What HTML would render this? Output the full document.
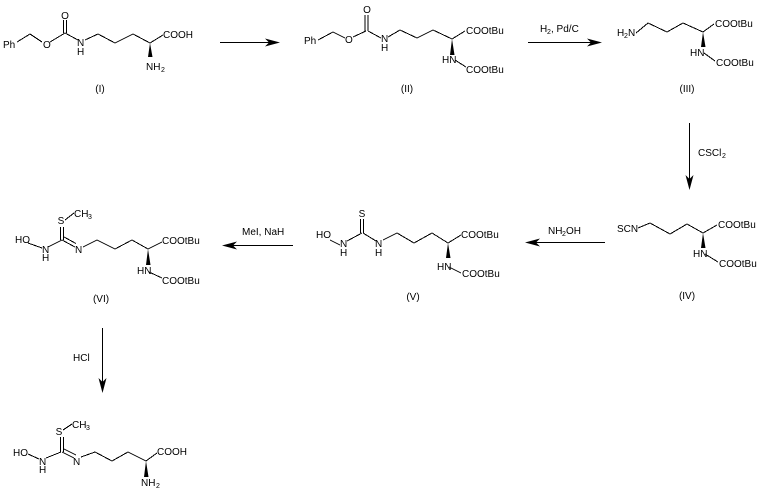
<!DOCTYPE html>
<html><head><meta charset="utf-8"><style>
html,body{margin:0;padding:0;background:#fff;}
svg{display:block}
text{font-family:"Liberation Sans",Arial,sans-serif;font-size:10px;fill:#000}
.s{font-size:7px}
.m{text-anchor:middle}
</style></head><body>
<svg width="762" height="494" viewBox="0 0 762 494" xmlns="http://www.w3.org/2000/svg">
<g stroke="#000" stroke-width="1" fill="none" shape-rendering="crispEdges">
<!-- Compound I -->
<polyline points="17,42 30,34 42,42"/>
<line x1="50" y1="42" x2="65" y2="33"/>
<line x1="63.5" y1="33" x2="63.5" y2="20"/>
<line x1="66.5" y1="33" x2="66.5" y2="20"/>
<line x1="65" y1="33" x2="78" y2="40"/>
<polyline points="85,40 98,34 115,43 133,34 150,43 163,35"/>
<!-- arrow 1 -->
<line x1="220" y1="42.5" x2="270" y2="42.5"/>
<!-- Compound II -->
<polyline points="318,40 333,32 345,38"/>
<line x1="353" y1="37" x2="366" y2="31"/>
<line x1="365" y1="31" x2="365" y2="15"/>
<line x1="368" y1="31" x2="368" y2="15"/>
<line x1="368" y1="31" x2="381" y2="38"/>
<polyline points="388,37 400,30 417,38 433,30 452,39 465,31"/>
<line x1="455" y1="60" x2="466" y2="67"/>
<!-- arrow 2 -->
<line x1="528" y1="42.5" x2="592" y2="42.5"/>
<!-- Compound III -->
<polyline points="636,33 648,23 667,32 683,23 703,32 714,24"/>
<line x1="704" y1="53" x2="715" y2="61"/>
<!-- arrow 3 vertical -->
<line x1="689.5" y1="123" x2="689.5" y2="180"/>
<!-- Compound IV -->
<polyline points="638,228 650,223 670,234 687,224 703,233 717,225"/>
<line x1="705" y1="254" x2="718" y2="262"/>
<!-- arrow NH2OH -->
<line x1="535" y1="242.5" x2="605" y2="242.5"/>
<!-- Compound V -->
<line x1="330" y1="240" x2="340" y2="245"/>
<line x1="347" y1="241" x2="362" y2="233"/>
<line x1="360.5" y1="233" x2="360.5" y2="219"/>
<line x1="363.5" y1="233" x2="363.5" y2="219"/>
<line x1="363" y1="233" x2="376" y2="241"/>
<polyline points="383,240 397,233 414,243 432,233 448,243 461,235"/>
<line x1="449" y1="267" x2="461" y2="273"/>
<!-- arrow MeI -->
<line x1="232" y1="245.5" x2="293" y2="245.5"/>
<!-- Compound VI -->
<line x1="28" y1="243" x2="42" y2="248"/>
<line x1="48" y1="247" x2="62" y2="240"/>
<line x1="60.5" y1="240" x2="60.5" y2="227"/>
<line x1="63.5" y1="240" x2="63.5" y2="227"/>
<line x1="65" y1="220" x2="74" y2="213"/>
<line x1="62" y1="240" x2="75" y2="247"/>
<line x1="64" y1="237" x2="76" y2="243.5"/>
<polyline points="83,247 97,240 115,249 132,240 148,249 162,242"/>
<line x1="149" y1="272" x2="162" y2="278"/>
<!-- arrow HCl -->
<line x1="102.5" y1="328" x2="102.5" y2="383"/>
<!-- Final compound -->
<line x1="63" y1="430" x2="72" y2="424"/>
<line x1="60.5" y1="437" x2="60.5" y2="452"/>
<line x1="63.5" y1="437" x2="63.5" y2="452"/>
<line x1="28" y1="454" x2="39" y2="459"/>
<line x1="46" y1="458" x2="61" y2="452"/>
<line x1="62" y1="452" x2="74" y2="458"/>
<line x1="64" y1="449" x2="76" y2="455"/>
<polyline points="81,457 95,452 112,461 128,452 146,461 157,453"/>
</g>
<g fill="#000">
<!-- wedges -->
<polygon points="150,43 148,57 152.5,57"/>
<polygon points="452,39 450,55 454.5,55"/>
<polygon points="703,32 701,47 705.5,47"/>
<polygon points="703,233 701,248 705.5,248"/>
<polygon points="448,243 446,258 450.5,258"/>
<polygon points="148,249 146,265 150.5,265"/>
<polygon points="146,461 144,477 148.5,477"/>
<!-- arrowheads -->
<polygon points="280,42.5 265,38.5 269,42.5 265,46.5"/>
<polygon points="602,42.5 587,38.5 591,42.5 587,46.5"/>
<polygon points="689.5,190 685.5,175 689.5,179 693.5,175"/>
<polygon points="525,242.5 540,238.5 536,242.5 540,246.5"/>
<polygon points="222,245.5 237,241.5 233,245.5 237,249.5"/>
<polygon points="102.5,393 98.5,378 102.5,382 106.5,378"/>
</g>
<!-- Texts: Compound I -->
<text x="3" y="48">Ph</text>
<text x="43" y="48">O</text>
<text x="65" y="19" class="m">O</text>
<text x="77" y="46">N</text>
<text x="77" y="55">H</text>
<text x="163" y="38">COOH</text>
<text x="146" y="70">NH</text><text x="161" y="72" class="s">2</text>
<text x="100" y="92" class="m">(I)</text>
<!-- Compound II -->
<text x="304" y="44">Ph</text>
<text x="345" y="43">O</text>
<text x="367" y="13" class="m">O</text>
<text x="381" y="42">N</text>
<text x="381" y="51">H</text>
<text x="466" y="34">COOtBu</text>
<text x="442" y="63">HN</text>
<text x="466" y="73">COOtBu</text>
<text x="407" y="92" class="m">(II)</text>
<!-- H2, Pd/C -->
<text x="540" y="32">H</text><text x="547" y="34" class="s">2</text><text x="551" y="32">, Pd/C</text>
<!-- Compound III -->
<text x="617" y="36">H</text><text x="624" y="38" class="s">2</text><text x="628" y="36">N</text>
<text x="715" y="27">COOtBu</text>
<text x="690" y="56">HN</text>
<text x="716" y="66">COOtBu</text>
<text x="687" y="92" class="m">(III)</text>
<!-- CSCl2 -->
<text x="698" y="156">CSCl</text><text x="722" y="158" class="s">2</text>
<!-- Compound IV -->
<text x="617" y="232">SCN</text>
<text x="718" y="228">COOtBu</text>
<text x="693" y="257">HN</text>
<text x="719" y="267">COOtBu</text>
<text x="687" y="299" class="m">(IV)</text>
<!-- NH2OH -->
<text x="548" y="234">NH</text><text x="562" y="236" class="s">2</text><text x="566" y="234">OH</text>
<!-- Compound V -->
<text x="316" y="238">HO</text>
<text x="340" y="247">N</text>
<text x="340" y="256">H</text>
<text x="362" y="217" class="m">S</text>
<text x="375" y="247">N</text>
<text x="375" y="256">H</text>
<text x="461" y="238">COOtBu</text>
<text x="437" y="270">HN</text>
<text x="462" y="277">COOtBu</text>
<text x="413" y="300" class="m">(V)</text>
<!-- MeI, NaH -->
<text x="242" y="235">MeI, NaH</text>
<!-- Compound VI -->
<text x="15" y="243">HO</text>
<text x="42" y="253">N</text>
<text x="42" y="261">H</text>
<text x="61" y="224" class="m">S</text>
<text x="74" y="217">CH</text><text x="88" y="219" class="s">3</text>
<text x="75" y="253">N</text>
<text x="162" y="244">COOtBu</text>
<text x="137" y="274">HN</text>
<text x="162" y="284">COOtBu</text>
<text x="101" y="302" class="m">(VI)</text>
<!-- HCl -->
<text x="73" y="361">HCl</text>
<!-- Final compound -->
<text x="72" y="428">CH</text><text x="86" y="430" class="s">3</text>
<text x="59" y="435" class="m">S</text>
<text x="13" y="456">HO</text>
<text x="39" y="465">N</text>
<text x="39" y="473">H</text>
<text x="73" y="465">N</text>
<text x="157" y="455">COOH</text>
<text x="141" y="486">NH</text><text x="156" y="488" class="s">2</text>
</svg>
</body></html>
